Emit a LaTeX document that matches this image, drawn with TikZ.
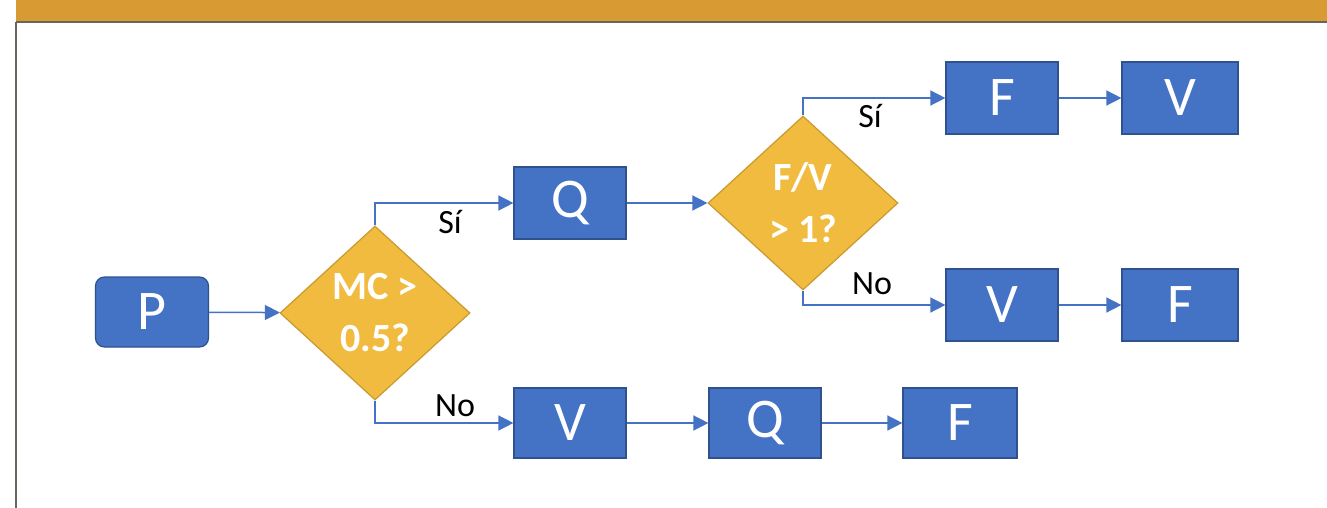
\documentclass[tikz,border=0pt]{standalone}
\usepackage{fontspec}
\setmainfont{Carlito}
\usetikzlibrary{shapes.geometric,arrows.meta}
\definecolor{boxblue}{HTML}{4472C4}
\definecolor{boxborder}{HTML}{2F528F}
\definecolor{dgold}{HTML}{F0BB3E}
\definecolor{dgoldborder}{HTML}{C99B2E}
\definecolor{barorange}{HTML}{D89A33}
\definecolor{bargrey}{HTML}{66665A}
\definecolor{conncol}{HTML}{4472C4}
\begin{document}
\begin{tikzpicture}[x=1pt,y=-1pt,
  stepbox/.style={rectangle, fill=boxblue, draw=boxborder, line width=1.2pt,
    minimum width=112pt, minimum height=72pt, inner sep=0pt, text=white,
    font=\fontsize{56}{56}\selectfont},
  decbox/.style={diamond, aspect=1.09, fill=dgold, draw=dgoldborder, line width=1.2pt,
    minimum width=190pt, minimum height=174pt, inner sep=0pt, text=white, align=center,
    font=\bfseries\fontsize{40}{52}\selectfont},
  conn/.style={draw=conncol, line width=1.5pt, -{Triangle[length=15pt,width=15pt]}},
  lbl/.style={font=\fontsize{34}{34}\selectfont, text=black, inner sep=0pt}]
\useasboundingbox (0,0) rectangle (1327,508);
\fill[white] (0,0) rectangle (1327,508);
\fill[barorange] (16,0) rectangle (1327,22);
\draw[bargrey, line width=1.5pt] (16,22) -- (1327,22);
\draw[bargrey, line width=1.5pt] (16,22) -- (16,508);

\node[stepbox, rounded corners=9pt, minimum width=113pt, minimum height=70pt] (P) at (152,312) {P};
\node[decbox] (D1) at (375,313) {MC >\\0.5?};
\node[stepbox] (Q1) at (570,203) {Q};
\node[decbox] (D2) at (803,203) {F/V\\> 1?};
\node[stepbox] (F1) at (1002,98) {F};
\node[stepbox, minimum width=116pt] (V1) at (1180,98) {V};
\node[stepbox] (V2) at (1002,305) {V};
\node[stepbox, minimum width=116pt] (F2) at (1180,305) {F};
\node[stepbox, minimum height=70pt] (V3) at (570,423) {V};
\node[stepbox, minimum height=70pt] (Q3) at (765,423) {Q};
\node[stepbox, minimum height=70pt, minimum width=114pt] (F3) at (960,423) {F};

\draw[conn] (P) -- (D1);
\draw[conn] (D1.north) |- (Q1.west);
\draw[conn] (D1.south) |- (V3.west);
\draw[conn] (V3) -- (Q3);
\draw[conn] (Q3) -- (F3);
\draw[conn] (Q1) -- (D2);
\draw[conn] (D2.north) |- (F1.west);
\draw[conn] (D2.south) |- (V2.west);
\draw[conn] (F1) -- (V1);
\draw[conn] (V2) -- (F2);

\node[lbl] (s1) at (450,222) {Sí};
\node[lbl] (n1) at (455,406) {No};
\node[lbl] (s2) at (870,116) {Sí};
\node[lbl] (n2) at (872,284) {No};
\end{tikzpicture}
\end{document}
